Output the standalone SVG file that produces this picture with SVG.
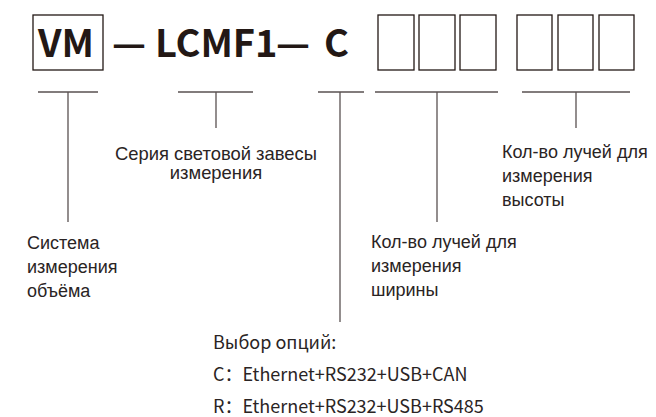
<svg xmlns="http://www.w3.org/2000/svg" width="656" height="417" viewBox="0 0 656 417">
<style>
.t{font-family:"Noto Sans CJK SC","Noto Sans",sans-serif;font-weight:bold;font-size:38px;fill:#231815}
.l{font-family:"Liberation Sans",Arial,sans-serif;font-size:18px;fill:#2a2424}
.o{font-family:"Noto Sans CJK SC","Noto Sans",sans-serif;font-size:18px;fill:#2a2424}
.b{fill:none;stroke:#231815;stroke-width:1.3}
.c{fill:none;stroke:#5a5252;stroke-width:1.3}
</style>
<rect width="656" height="417" fill="#fff"/>
<g id="code">
<rect class="b" x="33" y="15" width="70" height="55"/>
<text class="t" x="38" y="57">VM</text>
<text class="t" x="112" y="57" textLength="34" lengthAdjust="spacingAndGlyphs">—</text>
<text class="t" x="155" y="57">LCMF1</text>
<text class="t" x="276" y="57" textLength="34" lengthAdjust="spacingAndGlyphs">—</text>
<text class="t" x="324" y="57">C</text>
<rect class="b" x="378" y="15" width="36" height="55"/>
<rect class="b" x="419" y="15" width="36" height="55"/>
<rect class="b" x="460" y="15" width="36" height="55"/>
<rect class="b" x="517" y="15" width="35" height="55"/>
<rect class="b" x="558" y="15" width="35" height="55"/>
<rect class="b" x="599" y="15" width="35" height="55"/>
</g>
<g id="connectors">
<path class="c" d="M38 92H98M68 92V222"/>
<path class="c" d="M178 92H253M216 92V128"/>
<path class="c" d="M318 92H364M340 92V322"/>
<path class="c" d="M375 92H498M437 92V222"/>
<path class="c" d="M522 92H630M576 92V128"/>
</g>
<g id="n-system">
<text class="l" x="27" y="249">Система</text>
<text class="l" x="27" y="273">измерения</text>
<text class="l" x="27" y="297">объёма</text>
</g>
<g id="n-series">
<text class="l" x="216" y="160" text-anchor="middle" style="font-size:18.4px">Серия световой завесы</text>
<text class="l" x="216" y="179" text-anchor="middle" style="font-size:18.4px">измерения</text>
</g>
<g id="n-height">
<text class="l" x="502" y="158">Кол-во лучей для</text>
<text class="l" x="502" y="182">измерения</text>
<text class="l" x="502" y="206">высоты</text>
</g>
<g id="n-width">
<text class="l" x="371" y="248">Кол-во лучей для</text>
<text class="l" x="371" y="272">измерения</text>
<text class="l" x="371" y="296">ширины</text>
</g>
<g id="n-options">
<text class="o" x="213" y="349">Выбор опций:</text>
<text class="o" x="213" y="381">C：Ethernet+RS232+USB+CAN</text>
<text class="o" x="213" y="413">R：Ethernet+RS232+USB+RS485</text>
</g>
</svg>
